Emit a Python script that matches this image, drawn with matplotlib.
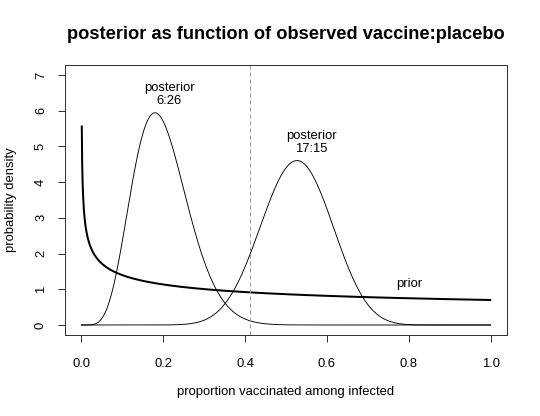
import math
import numpy as np
import matplotlib
matplotlib.use("Agg")
import matplotlib.pyplot as plt

# ---- data ----
prior_shape = [0.700102, 1.0]          # Beta prior (alpha, beta)
vaccine_counts = [6, 17]               # observed vaccinated infected
placebo_counts = [26, 15]              # observed placebo infected
x_ticks = [0.0, 0.2, 0.4, 0.6, 0.8, 1.0]
y_ticks = [0, 1, 2, 3, 4, 5, 6, 7]
prior_label = "prior"


def beta_pdf(x, a, b):
    lognorm = math.lgamma(a + b) - math.lgamma(a) - math.lgamma(b)
    return np.exp(lognorm + (a - 1) * np.log(x) + (b - 1) * np.log1p(-x))


plt.rcParams['font.family'] = ['Liberation Sans', 'DejaVu Sans']
FS = 13

fig = plt.figure(figsize=(540 / 72, 416 / 72), dpi=72)
ax = fig.add_axes([65 / 540, 1 - 335 / 416, (507 - 65) / 540, (335 - 65) / 416])

# prior
xp = np.linspace(0.001, 1.0, 1000)
ax.plot(xp, beta_pdf(xp, *prior_shape), color='black', lw=2)

# posteriors
xg = np.linspace(0.0, 1.0, 1001)
xi = xg[1:-1]
for v, p in zip(vaccine_counts, placebo_counts):
    a = prior_shape[0] + v
    b = prior_shape[1] + p
    y = np.concatenate([[0.0], beta_pdf(xi, a, b), [0.0]])
    ax.plot(xg, y, color='black', lw=0.9)
    mode = (a - 1) / (a + b - 2)
    peak = beta_pdf(np.array([mode]), a, b)[0]
    ax.text(mode + 0.035, peak + 0.5, f"posterior\n{v}:{p}", ha='center', va='center',
            fontsize=FS, linespacing=1.1)

# prior mean
prior_mean = prior_shape[0] / (prior_shape[0] + prior_shape[1])
ax.axvline(prior_mean, color='#999999', lw=1, ls=(0, (4, 3)))

ax.text(0.80, 1.15, prior_label, ha='center', va='center', fontsize=FS)

ax.set_xlim(-0.04, 1.04)
ax.set_ylim(-0.28, 7.28)
ax.set_xticks(x_ticks)
ax.set_xticklabels([f"{t:.1f}" for t in x_ticks])
ax.set_yticks(y_ticks)
ax.set_yticklabels([str(t) for t in y_ticks], rotation=90, va='center')
ax.tick_params(direction='out', length=7, width=1, labelsize=FS, color='#333333')
ax.tick_params(axis='x', pad=16)
ax.tick_params(axis='y', pad=11)
for s in ax.spines.values():
    s.set_linewidth(1)
    s.set_color('#333333')

ax.set_xlabel("proportion vaccinated among infected", fontsize=FS, labelpad=16)
ax.set_ylabel("probability density", fontsize=FS, labelpad=18)
ax.set_title("posterior as function of observed vaccine:placebo", fontsize=18.3,
             fontweight='bold', pad=26)

fig.savefig("out.png", dpi=72)
